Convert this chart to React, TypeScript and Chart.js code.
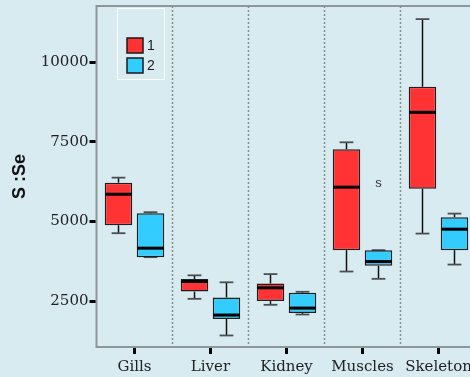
import { useEffect, useRef } from 'react';
import { Chart, registerables } from 'chart.js';

Chart.register(...registerables);

// Organs on the category axis
const organs = ['Gills', 'Liver', 'Kidney', 'Muscles', 'Skeleton'];
const groupLabels = ['1', '2'];

// Five-number summaries for group 1 (per organ)
const group1Min = [4631, 2572, 2384, 3428, 4619];
const group1Q1 = [4882, 2798, 2500, 4099, 6029];
const group1Median = [5854, 3115, 2917, 6076, 8424];
const group1Q3 = [6217, 3190, 3052, 7264, 9226];
const group1Max = [6374, 3309, 3347, 7483, 11348];

// Five-number summaries for group 2 (per organ)
const group2Min = [3879, 1422, 2080, 3199, 3647];
const group2Q1 = [3879, 1939, 2124, 3607, 4099];
const group2Median = [4161, 2062, 2281, 3741, 4757];
const group2Q3 = [5258, 2613, 2760, 4099, 5133];
const group2Max = [5290, 3090, 2792, 4099, 5246];

// Labelled outlier
const outlierOrgan = 'Muscles';
const outlierGroup = 1; // index into groups (group "2")
const outlierValue = 6177;
const outlierLabel = 's';

const yTicks = [2500, 5000, 7500, 10000];
const yMin = 1060;
const yMax = 11760;

const BG = '#d8ebf1';
const RED = '#ff3333';
const BLUE = '#33ccff';
const SERIF = "'DejaVu Serif', serif";

const groups = [
  { min: group1Min, q1: group1Q1, med: group1Median, q3: group1Q3, max: group1Max },
  { min: group2Min, q1: group2Q1, med: group2Median, q3: group2Q3, max: group2Max },
];

const backgroundPlugin = {
  id: 'bg',
  beforeDraw(chart: any) {
    const { ctx, width, height } = chart;
    ctx.save();
    ctx.fillStyle = BG;
    ctx.fillRect(0, 0, width, height);
    ctx.restore();
  },
};

const frameAndWhiskers = {
  id: 'frameAndWhiskers',
  beforeDatasetsDraw(chart: any) {
    const { ctx, chartArea: ca } = chart;
    const xs = chart.scales.x;
    const ys = chart.scales.y;
    ctx.save();
    // dotted separators between organ groups
    ctx.strokeStyle = '#858c90';
    ctx.lineWidth = 1.5;
    ctx.setLineDash([2, 2]);
    for (let i = 0; i < organs.length; i++) {
      const x = (xs.getPixelForValue(i) + xs.getPixelForValue(i + 1)) / 2;
      ctx.beginPath();
      ctx.moveTo(x, ca.top);
      ctx.lineTo(x, ca.bottom);
      ctx.stroke();
    }
    ctx.setLineDash([]);
    // plot frame
    ctx.strokeStyle = '#8d979b';
    ctx.lineWidth = 2;
    ctx.strokeRect(ca.left, ca.top, ca.right - ca.left, ca.bottom - ca.top);

    // whiskers and caps
    groups.forEach((g, d) => {
      const meta = chart.getDatasetMeta(d);
      meta.data.forEach((el: any, i: number) => {
        const x = el.x;
        const capHalf = el.width / 4;
        const segs = [
          [g.q3[i], g.max[i]],
          [g.q1[i], g.min[i]],
        ];
        segs.forEach(([from, to]) => {
          const y0 = ys.getPixelForValue(from);
          const y1 = ys.getPixelForValue(to);
          ctx.strokeStyle = '#111';
          ctx.lineWidth = 1.5;
          ctx.beginPath();
          ctx.moveTo(x, y0);
          ctx.lineTo(x, y1);
          ctx.stroke();
          ctx.strokeStyle = '#4a4f52';
          ctx.lineWidth = 1.8;
          ctx.beginPath();
          ctx.moveTo(x - capHalf, y1);
          ctx.lineTo(x + capHalf, y1);
          ctx.stroke();
        });
      });
    });
    ctx.restore();
  },
  afterDatasetsDraw(chart: any) {
    const { ctx } = chart;
    const ys = chart.scales.y;
    ctx.save();
    // medians
    groups.forEach((g, d) => {
      const meta = chart.getDatasetMeta(d);
      meta.data.forEach((el: any, i: number) => {
        const y = ys.getPixelForValue(g.med[i]);
        ctx.strokeStyle = '#000';
        ctx.lineWidth = 3;
        ctx.beginPath();
        ctx.moveTo(el.x - el.width / 2 + 0.5, y);
        ctx.lineTo(el.x + el.width / 2 - 0.5, y);
        ctx.stroke();
      });
    });
    // outlier label
    const oi = organs.indexOf(outlierOrgan);
    const oel: any = chart.getDatasetMeta(outlierGroup).data[oi];
    ctx.fillStyle = '#333';
    ctx.font = "13px 'Liberation Sans', sans-serif";
    ctx.textAlign = 'center';
    ctx.textBaseline = 'alphabetic';
    ctx.fillText(outlierLabel, oel.x, ys.getPixelForValue(outlierValue) + 3.4);

    // legend
    const ca = chart.chartArea;
    const lx = ca.left + 21;
    const ly = ca.top + 2.5;
    ctx.strokeStyle = '#ffffff';
    ctx.lineWidth = 1;
    ctx.strokeRect(lx, ly, 47, 71);
    const colors = [RED, BLUE];
    groupLabels.forEach((lab, k) => {
      const sx = lx + 9.5;
      const sy = ly + 29.5 + k * 20;
      ctx.fillStyle = colors[k];
      ctx.fillRect(sx, sy, 16, 15);
      ctx.strokeStyle = '#1a1a1a';
      ctx.lineWidth = 1.5;
      ctx.strokeRect(sx, sy, 16, 15);
      ctx.fillStyle = '#1a1a1a';
      ctx.font = "14px 'Liberation Sans', sans-serif";
      ctx.textAlign = 'left';
      ctx.textBaseline = 'middle';
      ctx.fillText(lab, sx + 20, sy + 8);
    });
    ctx.restore();
  },
};

export default function App() {
  const ref = useRef<HTMLCanvasElement>(null);

  useEffect(() => {
    document.body.style.margin = '0';
    document.body.style.background = BG;
    const chart = new Chart(ref.current as HTMLCanvasElement, {
      type: 'bar',
      data: {
        labels: organs,
        datasets: groups.map((g, d) => ({
          label: groupLabels[d],
          data: g.q1.map((v, i) => [v, g.q3[i]]),
          backgroundColor: d === 0 ? RED : BLUE,
          borderColor: '#1f1f1f',
          borderWidth: 1.5,
          borderSkipped: false,
          barPercentage: 0.86,
          categoryPercentage: 0.842,
        })) as any,
      },
      options: {
        responsive: false,
        animation: false,
        devicePixelRatio: 1,
        layout: { padding: { left: 0, top: 6, right: 3.5, bottom: 0 } },
        plugins: {
          legend: { display: false },
          tooltip: { enabled: false },
        },
        scales: {
          x: {
            grid: {
              display: true,
              drawOnChartArea: false,
              offset: false,
              tickLength: 7,
              tickWidth: 3,
              tickColor: '#000',
            },
            border: { display: false },
            ticks: {
              font: { family: SERIF, size: 15 },
              color: '#222',
              padding: 4,
              maxRotation: 0,
              autoSkip: false,
            },
            afterFit: (s: any) => {
              s.height = 30;
              s.paddingLeft = 0;
              s.paddingRight = 0;
            },
          },
          y: {
            min: yMin,
            max: yMax,
            grid: {
              drawOnChartArea: false,
              tickLength: 7,
              tickWidth: 3,
              tickColor: '#000',
            },
            border: { display: false },
            ticks: {
              font: { family: SERIF, size: 15 },
              color: '#222',
              padding: 1,
              callback: (v: any) => String(v),
            },
            afterBuildTicks: (s: any) => {
              s.ticks = yTicks.map((v) => ({ value: v }));
            },
            afterFit: (s: any) => {
              s.width = 96.5;
              s.paddingTop = 0;
              s.paddingBottom = 0;
            },
            title: {
              display: true,
              text: 'S :Se',
              color: '#111',
              font: { family: "'Liberation Sans', Arial, sans-serif", size: 18, weight: 'bold' },
              padding: { top: 9.7, bottom: 0 },
            },
          },
        },
      },
      plugins: [backgroundPlugin, frameAndWhiskers],
    });
    return () => chart.destroy();
  }, []);

  return (
    <div style={{ width: 470, height: 377, overflow: 'hidden', background: BG }}>
      <canvas ref={ref} width={480} height={377} style={{ display: 'block' }} />
    </div>
  );
}
